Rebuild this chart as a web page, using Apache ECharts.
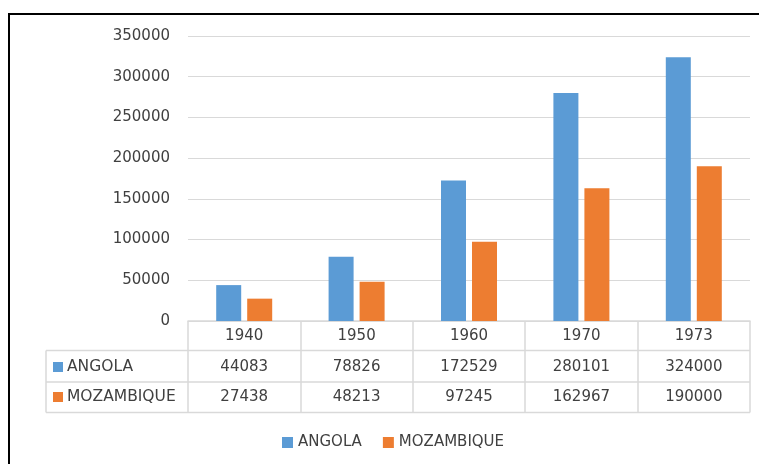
<!DOCTYPE html>
<html>
<head>
<meta charset="utf-8">
<script src="https://cdn.jsdelivr.net/npm/echarts@6/dist/echarts.min.js"></script>
<style>
html,body{margin:0;padding:0;background:#fff;}
#main{width:759px;height:464px;}
</style>
</head>
<body>
<div id="main"></div>
<script>
var categories = ['1940', '1950', '1960', '1970', '1973'];
var angola = [44083, 78826, 172529, 280101, 324000];
var mozambique = [27438, 48213, 97245, 162967, 190000];
var seriesNames = ['ANGOLA', 'MOZAMBIQUE'];
var colors = ['#5B9BD5', '#ED7D31'];

var FONT = 'DejaVu Sans';
var TXT = '#404040';
var LINE = '#d9d9d9';
var G = {left: 188, right: 9, top: 36, bottom: 143};
var W = 759, H = 464;
var axisY = H - G.bottom;        // 321
var rowH = 30.5;
var tableLeft = 46;
var plotRight = W - G.right;

var chart = echarts.init(document.getElementById('main'), null, {renderer: 'canvas'});

var graphics = [
  {type: 'polyline', shape: {points: [[9, H + 5], [9, 14], [W + 5, 14]]}, style: {stroke: '#000', lineWidth: 2, fill: null}, silent: true},
  {type: 'line', shape: {x1: tableLeft, y1: axisY + rowH - 1, x2: plotRight, y2: axisY + rowH - 1}, style: {stroke: LINE, lineWidth: 1.5}},
  {type: 'line', shape: {x1: tableLeft, y1: axisY + 2 * rowH, x2: plotRight, y2: axisY + 2 * rowH}, style: {stroke: LINE, lineWidth: 1.5}},
  {type: 'line', shape: {x1: tableLeft, y1: axisY + 3 * rowH, x2: plotRight, y2: axisY + 3 * rowH}, style: {stroke: LINE, lineWidth: 1.5}},
  {type: 'line', shape: {x1: tableLeft, y1: axisY + rowH - 1, x2: tableLeft, y2: axisY + 3 * rowH}, style: {stroke: LINE, lineWidth: 1.5}}
];
seriesNames.forEach(function (n, i) {
  var cy = axisY + rowH * (i + 1.5);
  graphics.push({type: 'rect', shape: {x: 53, y: Math.round(cy - 5), width: 10, height: 10}, style: {fill: colors[i]}});
  graphics.push({type: 'text', x: 67, y: cy, style: {text: n, font: '15.5px "' + FONT + '"', fill: TXT, textVerticalAlign: 'middle'}});
});

var option = {
  animation: false,
  backgroundColor: '#fff',
  color: colors,
  textStyle: {fontFamily: FONT},
  grid: {left: G.left, right: G.right, top: G.top, bottom: G.bottom, containLabel: false},
  legend: {
    data: seriesNames,
    left: 277, top: 430,
    itemWidth: 11, itemHeight: 11, itemGap: 21,
    icon: 'rect',
    textStyle: {color: TXT, fontSize: 15, fontFamily: FONT}
  },
  xAxis: {
    type: 'category',
    data: categories,
    axisLine: {show: true, lineStyle: {color: LINE, width: 1.5}},
    axisTick: {show: true, length: 3 * rowH, lineStyle: {color: LINE, width: 1.5}},
    axisLabel: {
      margin: 0,
      interval: 0,
      color: TXT,
      fontSize: 15,
      fontFamily: FONT,
      lineHeight: rowH,
      formatter: function (v, idx) {
        return v + '\n' + angola[idx] + '\n' + mozambique[idx];
      }
    }
  },
  yAxis: {
    type: 'value',
    min: 0, max: 350000, interval: 50000,
    axisLine: {show: false},
    axisTick: {show: false},
    axisLabel: {color: TXT, fontSize: 15, fontFamily: FONT, margin: 18, formatter: function (v) { return String(v); }},
    splitLine: {lineStyle: {color: LINE, width: 1}}
  },
  series: [
    {name: seriesNames[0], type: 'bar', data: angola, barWidth: 25, barGap: '24%', itemStyle: {color: colors[0]}},
    {name: seriesNames[1], type: 'bar', data: mozambique, barWidth: 25, barGap: '24%', itemStyle: {color: colors[1]}}
  ],
  graphic: graphics
};
chart.setOption(option);
</script>
</body>
</html>
